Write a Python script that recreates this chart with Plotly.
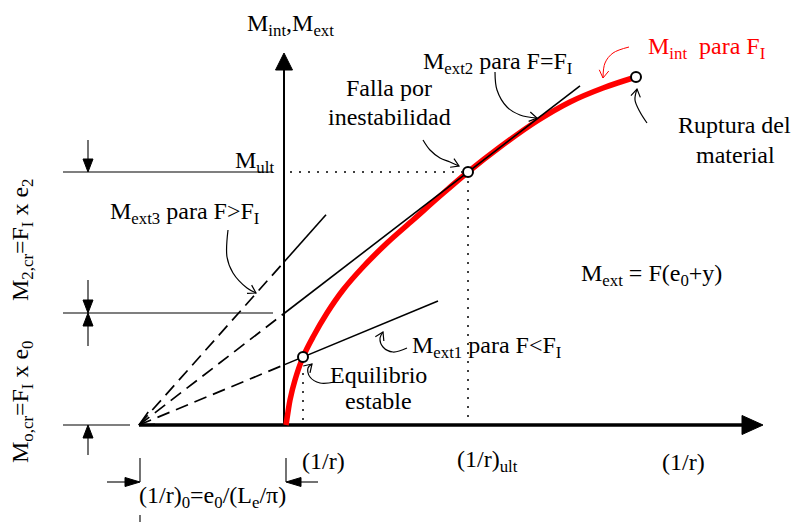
import numpy as np
import plotly.graph_objects as go

# ---------------------------------------------------------------
# Moment-curvature diagram (x: curvature 1/r, y: bending moment)
# units are arbitrary; origin at the intersection of the axes
# ---------------------------------------------------------------

# pole of the external-moment rays: (1/r)_0 = e0/(Le/pi), left of the M axis
pole_x = -1.45

# internal moment curve M_int for F = F_I
m_int_x = [0.02, 0.04, 0.06, 0.11, 0.19, 0.29, 0.43, 0.59, 0.79, 1.03,
           1.29, 1.56, 1.84, 2.16, 2.53, 2.86, 3.19, 3.52]
m_int_y = [0.00, 0.13, 0.25, 0.45, 0.68, 0.88, 1.12, 1.35, 1.58, 1.82,
           2.05, 2.29, 2.53, 2.78, 3.04, 3.23, 3.37, 3.48]

# marked states on the curve: stable equilibrium, instability, rupture
state_x = [0.19, 1.84, 3.52]
state_y = [0.68, 2.53, 3.48]

# moment levels on the M axis
m_ult = 2.53
m_2cr = 1.12

# external moment rays: slope of Mext3 and where each solid ray ends
mext3_slope = 1.124
ray_end_x = [1.54, 2.96, 0.42]      # Mext1, Mext2, Mext3

# extent of the axes
x_axis_end = 4.79
y_axis_end = 3.72

# axis labels / tick texts
x_labels = ["(1/r)", "(1/r)<sub>ult</sub>", "(1/r)"]

FONT = "Liberation Serif, Times New Roman, serif"
BLACK = "black"
RED = "#ff0000"

fig = go.Figure()


def line(xs, ys, color=BLACK, width=1.5, dash="solid", shape="linear"):
    fig.add_trace(go.Scatter(x=xs, y=ys, mode="lines", hoverinfo="skip",
                             line=dict(color=color, width=width, dash=dash, shape=shape)))


def filled_head(xt, yt, dx, dy, length=0.13, half=0.05):
    # solid triangular arrow head with its tip at (xt, yt), pointing along (dx, dy)
    n = np.hypot(dx, dy)
    ux, uy = dx / n, dy / n
    bx, by = xt - ux * length, yt - uy * length
    px, py = -uy * half, ux * half
    fig.add_trace(go.Scatter(x=[xt, bx + px, bx - px, xt], y=[yt, by + py, by - py, yt],
                             mode="lines", fill="toself", fillcolor=BLACK, hoverinfo="skip",
                             line=dict(color=BLACK, width=1)))


def open_head(xs, ys, color=BLACK, length=0.09, spread=32, width=1.2):
    # open "V" arrow head at the last point of a path
    ang = np.arctan2(ys[-1] - ys[-2], xs[-1] - xs[-2])
    hx, hy = [], []
    for s in (1, -1):
        a = ang + np.pi + s * np.radians(spread)
        hx.append(xs[-1] + length * np.cos(a))
        hy.append(ys[-1] + length * np.sin(a))
    line([hx[0], xs[-1], hx[1]], [hy[0], ys[-1], hy[1]], color=color, width=width)


def pointer(xs, ys, color=BLACK, width=1.2):
    line(xs, ys, color=color, width=width, shape="spline")
    open_head(xs, ys, color=color, width=width)


# ---- dimension lines on the left ----
dim_x0, dim_x1 = -2.21, -0.11
line([dim_x0, dim_x1], [m_ult, m_ult], width=1.1)
line([dim_x0, dim_x1], [m_2cr, m_2cr], width=1.1)
line([dim_x0, -1.54], [0, 0], width=1.1)
dim_arrow_x = -1.96
line([dim_arrow_x, dim_arrow_x], [m_ult + 0.32, m_ult + 0.1], width=1.1)
filled_head(dim_arrow_x, m_ult, 0, -1)
line([dim_arrow_x, dim_arrow_x], [m_2cr + 0.33, m_2cr + 0.1], width=1.1)
filled_head(dim_arrow_x, m_2cr, 0, -1)
line([dim_arrow_x, dim_arrow_x], [m_2cr - 0.33, m_2cr - 0.1], width=1.1)
filled_head(dim_arrow_x, m_2cr, 0, 1)
line([dim_arrow_x, dim_arrow_x], [-0.30, -0.1], width=1.1)
filled_head(dim_arrow_x, 0, 0, 1)

# ---- dimension of (1/r)_0 under the x axis ----
line([pole_x + 0.01, pole_x + 0.01], [-0.33, -0.57], width=1.1)
line([pole_x + 0.01, pole_x + 0.01], [-0.90, -0.97], width=1.1)
line([0.02, 0.02], [-0.33, -0.57], width=1.1)
line([pole_x - 0.32, pole_x - 0.1], [-0.57, -0.57], width=1.1)
filled_head(pole_x + 0.01, -0.57, 1, 0, length=0.15, half=0.045)
line([0.34, 0.12], [-0.57, -0.57], width=1.1)
filled_head(0.02, -0.57, -1, 0, length=0.15, half=0.045)

# ---- dotted projection lines ----
DOT = "2px,7px"
line([0.06, 1.78], [m_ult, m_ult], width=1.5, dash=DOT)
line([state_x[1], state_x[1]], [state_y[1] - 0.09, 0.02], width=1.5, dash=DOT)
line([state_x[0], state_x[0]], [state_y[0] - 0.16, 0.02], width=1.5, dash=DOT)

# ---- axes ----
line([pole_x, x_axis_end - 0.18], [0, 0], width=3.5)
filled_head(x_axis_end, 0, 1, 0, length=0.21, half=0.095)
line([0, 0], [0, y_axis_end - 0.14], width=2)
filled_head(0, y_axis_end, 0, 1, length=0.17, half=0.085)

# ---- internal moment curve ----
fig.add_trace(go.Scatter(x=m_int_x, y=m_int_y, mode="lines", hoverinfo="skip",
                         line=dict(color=RED, width=5.5, shape="spline", smoothing=1.0)))

# ---- external moment rays from the pole ----
slopes = [state_y[0] / (state_x[0] - pole_x),
          state_y[1] / (state_x[1] - pole_x),
          mext3_slope]
for k, xe in zip(slopes, ray_end_x):
    y0 = k * (0 - pole_x)
    line([pole_x, 0], [0, y0], width=1.7, dash="13px,7px")
    line([0, xe], [y0, k * (xe - pole_x)], width=1.6)
# open arrow head at the pole
open_head([pole_x + 0.3, pole_x], [0.3 * 0.55, 0], length=0.16, spread=26, width=1.6)

# ---- state markers ----
fig.add_trace(go.Scatter(x=state_x, y=state_y, mode="markers", hoverinfo="skip",
                         marker=dict(size=10, color="white", line=dict(color=BLACK, width=2))))

# ---- curved pointers ----
pointer([-0.56, -0.57, -0.51, -0.37, -0.28], [1.95, 1.68, 1.52, 1.37, 1.32])   # Mext3
pointer([2.11, 2.13, 2.23, 2.36, 2.53], [3.53, 3.35, 3.18, 3.10, 3.07])        # Mext2
pointer([1.39, 1.46, 1.56, 1.66, 1.75], [2.85, 2.75, 2.67, 2.63, 2.59])        # instability
pointer([3.63, 3.56, 3.51, 3.53], [3.02, 3.13, 3.25, 3.36])                    # rupture
pointer([3.45, 3.29, 3.21, 3.19], [3.78, 3.72, 3.62, 3.47], color=RED, width=1)  # Mint
pointer([1.23, 1.09, 0.99, 0.96, 0.99], [0.77, 0.73, 0.78, 0.87, 0.93])        # Mext1
pointer([0.51, 0.36, 0.26, 0.24, 0.28], [0.43, 0.42, 0.48, 0.57, 0.61])        # equilibrium


# ---- texts ----
def label(x, y, text, xanchor="center", color=BLACK, size=24, angle=0):
    fig.add_annotation(x=x, y=y, text=text, showarrow=False, xanchor=xanchor,
                       yanchor="middle", textangle=angle,
                       font=dict(family=FONT, size=size, color=color))


label(0.06, 4.00, "M<sub>int</sub>,M<sub>ext</sub>")
label(-0.08, 2.63, "M<sub>ult</sub>", xanchor="right")
label(1.05, 3.37, "Falla por")
label(1.05, 3.08, "inestabilidad")
label(2.13, 3.62, "M<sub>ext2</sub> para F=F<sub>I</sub>")
label(4.22, 3.77, "M<sub>int</sub>&nbsp; para F<sub>I</sub>", color=RED)
label(4.50, 3.00, "Ruptura del")
label(4.51, 2.70, "material")
label(-1.00, 2.12, "M<sub>ext3</sub> para F&gt;F<sub>I</sub>")
label(3.67, 1.50, "M<sub>ext</sub> = F(e<sub>0</sub>+y)")
label(1.26, 0.78, "M<sub>ext1</sub> para F&lt;F<sub>I</sub>", xanchor="left")
label(0.94, 0.50, "Equilibrio")
label(0.94, 0.24, "estable")
label(0.16, -0.36, x_labels[0], xanchor="left")
label(2.03, -0.36, x_labels[1])
label(3.99, -0.37, x_labels[2])
label(-0.72, -0.72, "(1/r)<sub>0</sub>=e<sub>0</sub>/(L<sub>e</sub>/π)")
label(-2.62, 1.85, "M<sub>2,cr</sub>=F<sub>I</sub> x e<sub>2</sub>", angle=-90)
label(-2.62, 0.23, "M<sub>o,cr</sub>=F<sub>I</sub> x e<sub>0</sub>", angle=-90)

fig.update_layout(
    width=793, height=522,
    margin=dict(l=0, r=0, t=0, b=0),
    paper_bgcolor="white", plot_bgcolor="white",
    showlegend=False,
    xaxis=dict(range=[-2.84, 5.09], visible=False, fixedrange=True),
    yaxis=dict(range=[-0.97, 4.25], visible=False, fixedrange=True),
)

fig.write_html("out.html")
